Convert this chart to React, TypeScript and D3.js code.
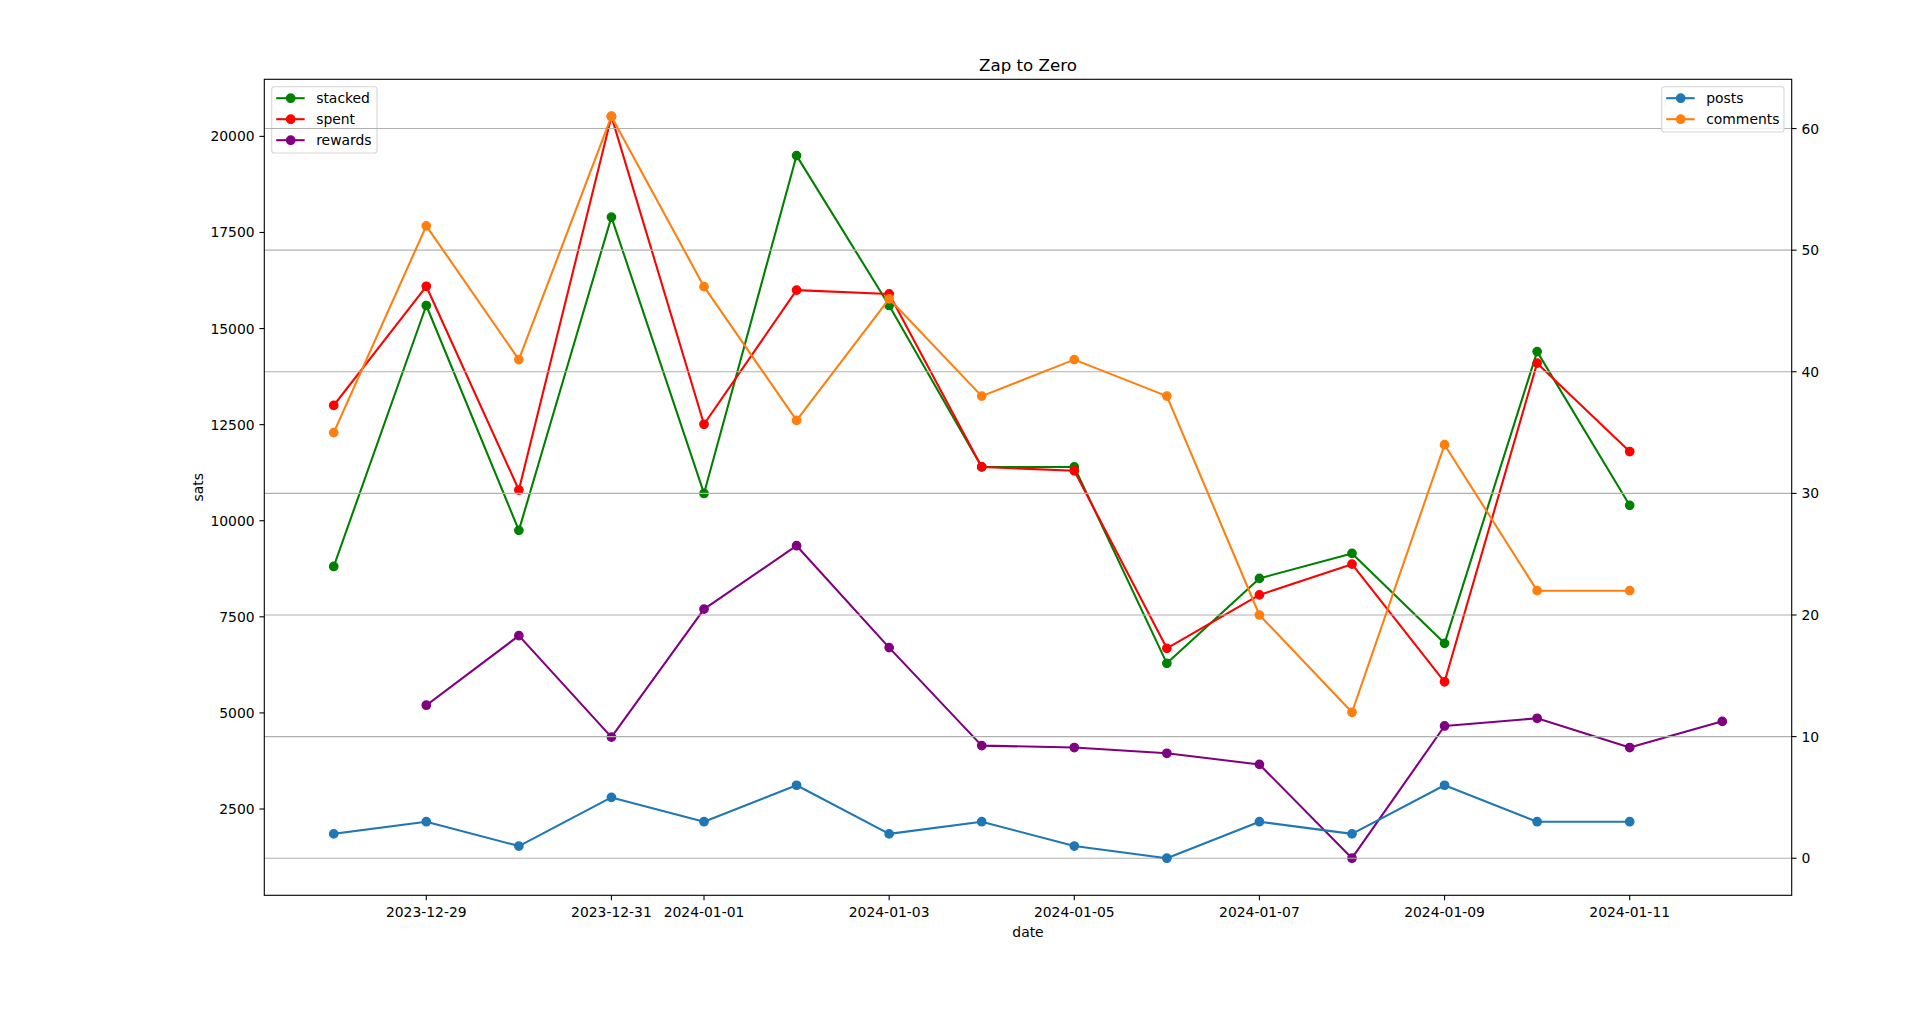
import React from "react";
import * as d3 from "d3";

const dates = [
  "2023-12-28", "2023-12-29", "2023-12-30", "2023-12-31",
  "2024-01-01", "2024-01-02", "2024-01-03", "2024-01-04",
  "2024-01-05", "2024-01-06", "2024-01-07", "2024-01-08",
  "2024-01-09", "2024-01-10", "2024-01-11", "2024-01-12",
];

const stacked = [8810, 15600, 9750, 17900, 10710, 19500, 15600, 11400, 11400, 6290, 8500, 9150, 6810, 14400, 10400];
const spent = [13000, 16100, 10800, 20520, 12510, 16000, 15900, 11400, 11300, 6680, 8070, 8870, 5810, 14100, 11800];
const rewards = [5200, 7010, 4370, 7700, 9350, 6700, 4150, 4100, 3950, 3660, 1220, 4660, 4860, 4100, 4780];
const posts = [2, 3, 1, 5, 3, 6, 2, 3, 1, 0, 3, 2, 6, 3, 3];
const comments = [35, 52, 41, 61, 47, 36, 46, 38, 41, 38, 20, 12, 34, 22, 22];

const xTickLabels = [
  "2023-12-29", "2023-12-31", "2024-01-01", "2024-01-03",
  "2024-01-05", "2024-01-07", "2024-01-09", "2024-01-11",
];
const leftTicks = [2500, 5000, 7500, 10000, 12500, 15000, 17500, 20000];
const rightTicks = [0, 10, 20, 30, 40, 50, 60];

const W = 1918, H = 1019;
const L = 264.3, R = 1791.7, T = 79.3, B = 895.3;
const FONT = "DejaVu Sans, sans-serif";
const FS = 13.9;

const parse = d3.utcParse("%Y-%m-%d");

function pad(ext: [number, number], frac: number): [number, number] {
  const r = ext[1] - ext[0];
  return [ext[0] - r * frac, ext[1] + r * frac];
}

export default function App() {
  const allDates = dates.map((d) => parse(d)!.getTime());
  const xs = pad([allDates[0], allDates[allDates.length - 1]], 0.05);
  const x = d3.scaleUtc().domain([new Date(xs[0]), new Date(xs[1])]).range([L, R]);

  const leftAll = [...stacked, ...spent, ...rewards];
  const yL = d3.scaleLinear().domain(pad([d3.min(leftAll)!, d3.max(leftAll)!], 0.05)).range([B, T]);
  const rightAll = [...posts, ...comments];
  const yR = d3.scaleLinear().domain(pad([d3.min(rightAll)!, d3.max(rightAll)!], 0.05)).range([B, T]);

  const mainDates = dates.slice(0, 15);
  const rewardDates = dates.slice(1, 16);

  type S = { name: string; color: string; dts: string[]; vals: number[]; y: d3.ScaleLinear<number, number> };
  const leftSeries: S[] = [
    { name: "stacked", color: "green", dts: mainDates, vals: stacked, y: yL },
    { name: "spent", color: "red", dts: mainDates, vals: spent, y: yL },
    { name: "rewards", color: "purple", dts: rewardDates, vals: rewards, y: yL },
  ];
  const rightSeries: S[] = [
    { name: "posts", color: "#1f77b4", dts: mainDates, vals: posts, y: yR },
    { name: "comments", color: "#ff7f0e", dts: mainDates, vals: comments, y: yR },
  ];

  const drawSeries = (s: S) => {
    const pts = s.vals.map((v, i) => [x(parse(s.dts[i])!), s.y(v)] as [number, number]);
    const line = d3.line()(pts) || "";
    return (
      <g key={s.name}>
        <path d={line} fill="none" stroke={s.color} strokeWidth={2.08} strokeLinejoin="round" strokeLinecap="square" />
        {pts.map((p, i) => (
          <circle key={i} cx={p[0]} cy={p[1]} r={4.17} fill={s.color} stroke={s.color} strokeWidth={1.39} />
        ))}
      </g>
    );
  };

  const legend = (series: S[], bx: number, by: number, bw: number) => {
    const rowH = 21;
    const bh = series.length * rowH + 3.3;
    return (
      <g>
        <rect x={bx} y={by} width={bw} height={bh} rx={2.8} fill="white" fillOpacity={0.8} stroke="#cccccc" strokeOpacity={0.8} strokeWidth={1.1} />
        {series.map((s, i) => {
          const cy = by + 11.5 + i * rowH;
          return (
            <g key={s.name}>
              <line x1={bx + 4.5} x2={bx + 33} y1={cy} y2={cy} stroke={s.color} strokeWidth={2.08} />
              <circle cx={bx + 19} cy={cy} r={4.17} fill={s.color} stroke={s.color} strokeWidth={1.39} />
              <text x={bx + 44.5} y={cy + 5} fontFamily={FONT} fontSize={FS} fill="black">{s.name}</text>
            </g>
          );
        })}
      </g>
    );
  };

  return (
    <svg width={W} height={H} style={{ position: "absolute", left: 0, top: 0, background: "white" }} xmlns="http://www.w3.org/2000/svg">
      <rect x={0} y={0} width={W} height={H} fill="white" />
      <g>{leftSeries.map(drawSeries)}</g>
      {legend(leftSeries, 271.7, 86.7, 105.3)}
      <g>
        {rightTicks.map((t) => (
          <line key={t} x1={L} x2={R} y1={yR(t)} y2={yR(t)} stroke="#b0b0b0" strokeWidth={1.1} />
        ))}
      </g>
      <g>{rightSeries.map(drawSeries)}</g>
      <rect x={L} y={T} width={R - L} height={B - T} fill="none" stroke="black" strokeWidth={1.1} />
      <g>
        {xTickLabels.map((d) => {
          const px = x(parse(d)!);
          return (
            <g key={d}>
              <line x1={px} x2={px} y1={B} y2={B + 4.86} stroke="black" strokeWidth={1.1} />
              <text x={px} y={916.8} textAnchor="middle" fontFamily={FONT} fontSize={FS} fill="black">{d}</text>
            </g>
          );
        })}
      </g>
      <g>
        {leftTicks.map((t) => {
          const py = yL(t);
          return (
            <g key={t}>
              <line x1={L - 4.86} x2={L} y1={py} y2={py} stroke="black" strokeWidth={1.1} />
              <text x={254.6} y={py + 5} textAnchor="end" fontFamily={FONT} fontSize={FS} fill="black">{t}</text>
            </g>
          );
        })}
      </g>
      <g>
        {rightTicks.map((t) => {
          const py = yR(t);
          return (
            <g key={t}>
              <line x1={R} x2={R + 4.86} y1={py} y2={py} stroke="black" strokeWidth={1.1} />
              <text x={1801.4} y={py + 5} textAnchor="start" fontFamily={FONT} fontSize={FS} fill="black">{t}</text>
            </g>
          );
        })}
      </g>
      {legend(rightSeries, 1661.7, 86.7, 122.3)}
      <text x={(L + R) / 2} y={71} textAnchor="middle" fontFamily={FONT} fontSize={16.67} fill="black">Zap to Zero</text>
      <text x={(L + R) / 2} y={936.5} textAnchor="middle" fontFamily={FONT} fontSize={FS} fill="black">date</text>
      <text transform={`translate(202.5,${(T + B) / 2}) rotate(-90)`} textAnchor="middle" fontFamily={FONT} fontSize={FS} fill="black">sats</text>
    </svg>
  );
}
